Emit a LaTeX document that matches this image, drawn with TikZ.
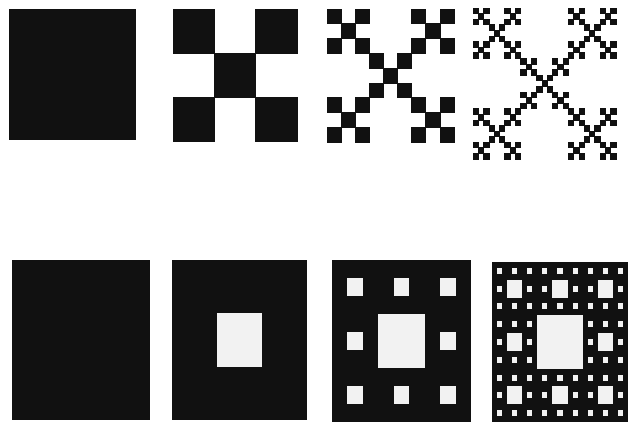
\documentclass[tikz,border=0pt]{standalone}
\usepackage{tikz}
\definecolor{ink}{HTML}{111111}
\definecolor{hole}{HTML}{F2F2F2}
\tikzset{vcell/.style={fill=ink,draw=ink,line width=0.7pt},
         hcell/.style={fill=hole}}
\newcommand\vicsek[5]{% level, x, y, w, h
  \ifnum#1=0
    \path[vcell] (#2,#3) rectangle ++(#4,#5);
  \else
    \foreach \a/\b in {0/0,0/2,2/0,2/2,1/1}{%
      \pgfmathsetmacro\nw{#4/3}%
      \pgfmathsetmacro\nh{#5/3}%
      \pgfmathsetmacro\nx{#2+\a*\nw}%
      \pgfmathsetmacro\ny{#3+\b*\nh}%
      \pgfmathtruncatemacro\nl{#1-1}%
      \edef\tmp{\noexpand\vicsek{\nl}{\nx}{\ny}{\nw}{\nh}}\tmp
    }%
  \fi}
\newcommand\carpetholes[5]{% level, x, y, w, h
  \ifnum#1>0
    \pgfmathsetmacro\cw{#4/3}%
    \pgfmathsetmacro\ch{#5/3}%
    \path[hcell] (#2+\cw,#3+\ch) rectangle ++(\cw,\ch);
    \foreach \a/\b in {0/0,1/0,2/0,0/1,2/1,0/2,1/2,2/2}{%
      \pgfmathsetmacro\nw{#4/3}%
      \pgfmathsetmacro\nh{#5/3}%
      \pgfmathsetmacro\nx{#2+\a*\nw}%
      \pgfmathsetmacro\ny{#3+\b*\nh}%
      \pgfmathtruncatemacro\nl{#1-1}%
      \edef\tmp{\noexpand\carpetholes{\nl}{\nx}{\ny}{\nw}{\nh}}\tmp
    }%
  \fi}
\newcommand\carpet[5]{%
  \fill[ink] (#2,#3) rectangle ++(#4,#5);
  \carpetholes{#1}{#2}{#3}{#4}{#5}}
\begin{document}
\begin{tikzpicture}[x=1pt,y=-1pt]
\useasboundingbox[fill=white] (0,0) rectangle (631,422);
% top row: Vicsek fractal
\vicsek{0}{9}{9}{126}{130}
\vicsek{1}{173}{9}{124}{132}
\vicsek{2}{327}{9}{127}{133}
\vicsek{3}{473}{8}{143}{151}
% bottom row: Sierpinski carpet
\carpet{0}{12}{260}{138}{160}
\carpet{1}{172}{260}{135}{160}
\carpet{2}{332}{260}{139}{162}
\carpet{3}{492}{262}{136}{160}
\end{tikzpicture}
\end{document}
